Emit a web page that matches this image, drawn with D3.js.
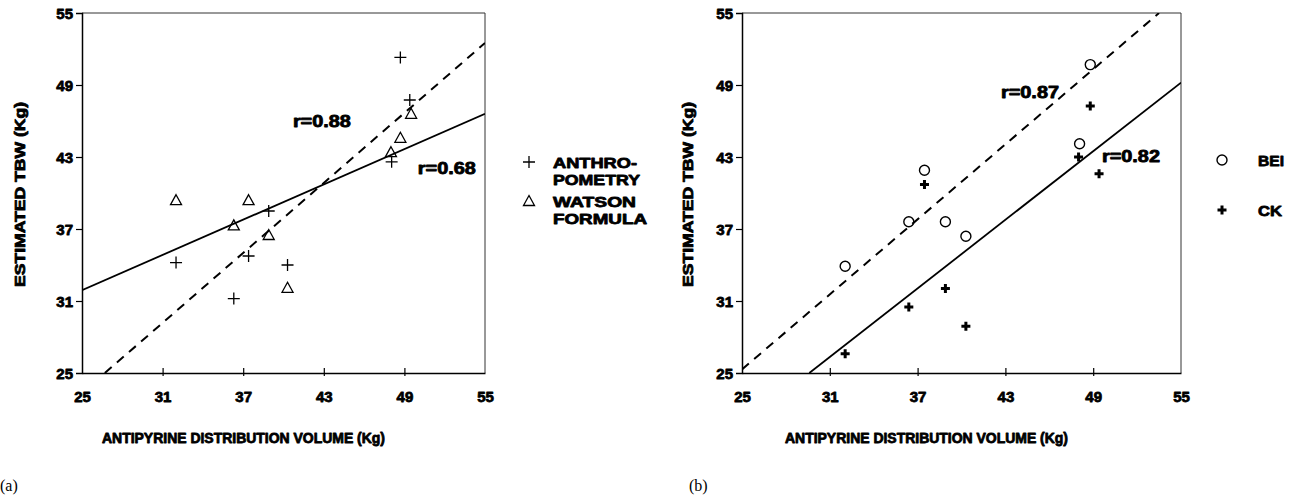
<!DOCTYPE html>
<html><head><meta charset="utf-8">
<script src="https://cdn.jsdelivr.net/npm/d3@7"></script>
<style>
html,body{margin:0;padding:0;background:#fff;}
svg{display:block;}
.h{font-family:"Liberation Sans",Arial,sans-serif;font-weight:bold;fill:#000;stroke:#000;stroke-width:0.8px;stroke-linejoin:round;}
.cap{font-family:"Liberation Serif","Times New Roman",serif;font-size:16px;fill:#000;}
</style></head><body>
<svg id="c" width="1294" height="499"></svg>
<script>
// ---------- data ----------
const tickValues = [25, 31, 37, 43, 49, 55];
const xTitle = "ANTIPYRINE DISTRIBUTION VOLUME (Kg)";
const yTitle = "ESTIMATED TBW (Kg)";

// panel (a)
const aX = [32.0, 36.3, 37.4, 38.9, 40.3, 48.05, 48.7, 49.4];
const aAnthro = [34.2, 31.2, 34.75, 38.5, 34.0, 42.6, 51.3, 47.75];
const aWatsonX = [32.0, 36.3, 37.4, 38.9, 40.3, 48.0, 48.7, 49.5];
const aWatson = [39.4, 37.3, 39.4, 36.5, 32.1, 43.4, 44.6, 46.6];
const aDashed = [[26.7, 25], [55, 52.5]];
const aSolid = [[25, 31.9], [55, 46.6]];
const aLabels = [{t: "r=0.88", x: 40.7, y: 46.0}, {t: "r=0.68", x: 50.0, y: 42.1}];
const aLegend = [{sym: "plus", lines: ["ANTHRO-", "POMETRY"]}, {sym: "tri", lines: ["WATSON", "FORMULA"]}];

// panel (b)
const bBeiX = [32.05, 36.4, 37.47, 38.9, 40.3, 48.07, 48.8];
const bBei = [33.9, 37.6, 41.9, 37.6, 36.4, 44.1, 50.7];
const bCkX = [32.05, 36.4, 37.47, 38.9, 40.3, 48.0, 48.8, 49.4];
const bCk = [26.6, 30.5, 40.7, 32.05, 28.9, 43.0, 47.25, 41.6];
const bDashed = [[25, 25.3], [53.5, 55]];
const bSolid = [[29.6, 25], [55, 49.2]];
const bLabels = [{t: "r=0.87", x: 42.7, y: 48.4}, {t: "r=0.82", x: 49.6, y: 43.1}];
const bLegend = [{sym: "circle", lines: ["BEI"]}, {sym: "bplus", lines: ["CK"]}];

// ---------- drawing ----------
const svg = d3.select("#c");

function drawSymbol(g, sym, cx, cy) {
  if (sym === "plus") {
    g.append("path").attr("d", `M${cx-6},${cy}H${cx+6}M${cx},${cy-6}V${cy+6}`)
      .attr("stroke", "#000").attr("stroke-width", 1.3).attr("fill", "none");
  } else if (sym === "bplus") {
    g.append("path").attr("d", `M${cx-4.5},${cy}H${cx+4.5}M${cx},${cy-4.5}V${cy+4.5}`)
      .attr("stroke", "#000").attr("stroke-width", 3).attr("fill", "none");
  } else if (sym === "tri") {
    g.append("path").attr("d", `M${cx},${cy-5.5}L${cx+5.5},${cy+4.5}L${cx-5.5},${cy+4.5}Z`)
      .attr("stroke", "#000").attr("stroke-width", 1.3).attr("fill", "none");
  } else if (sym === "circle") {
    g.append("circle").attr("cx", cx).attr("cy", cy).attr("r", 5)
      .attr("stroke", "#000").attr("stroke-width", 1.4).attr("fill", "none");
  }
}

function panel(opt) {
  const x = d3.scaleLinear().domain([25, 55]).range(opt.xr);
  const y = d3.scaleLinear().domain([25, 55]).range([373, 13]);
  const g = svg.append("g");

  // frame top/right
  g.append("path").attr("d", `M${opt.xr[0]},13H${opt.xr[1]}V373`)
    .attr("stroke", "#333").attr("stroke-width", 1).attr("fill", "none");

  // y axis
  const ya = g.append("g").attr("transform", `translate(${opt.xr[0]},0)`)
    .call(d3.axisLeft(y).tickValues(tickValues).tickSize(6).tickPadding(3));
  ya.select(".domain").attr("stroke-width", 1.5);
  ya.selectAll("text").attr("class", "h").style("font-size", "15px")
    .attr("font-family", null).attr("dy", "0.36em");
  ya.selectAll(".tick line").attr("stroke-width", 1.2);
  ya.selectAll(".tick").filter(d => d === 25 || d === 55).select("line").remove();

  // x axis
  const xa = g.append("g").attr("transform", "translate(0,373)")
    .call(d3.axisBottom(x).tickValues(tickValues).tickSize(0).tickPadding(0));
  xa.select(".domain").attr("stroke-width", 1.5);
  xa.selectAll(".tick line").remove();
  xa.selectAll(".tick").filter(d => d !== 25 && d !== 55).append("line")
    .attr("y1", -5).attr("y2", 3).attr("stroke", "#000").attr("stroke-width", 1.2);
  xa.selectAll("text").attr("class", "h").style("font-size", "15px")
    .attr("font-family", null).attr("y", 29).attr("dy", 0);

  // clip
  const cid = "clip" + opt.id;
  svg.append("clipPath").attr("id", cid).append("rect")
    .attr("x", opt.xr[0]).attr("y", 13).attr("width", opt.xr[1] - opt.xr[0]).attr("height", 360);
  const line = d3.line().x(d => x(d[0])).y(d => y(d[1]));
  g.append("path").datum(opt.dashed).attr("d", line).attr("clip-path", `url(#${cid})`)
    .attr("stroke", "#000").attr("stroke-width", 2).attr("stroke-dasharray", "9,7").attr("fill", "none");
  g.append("path").datum(opt.solid).attr("d", line).attr("clip-path", `url(#${cid})`)
    .attr("stroke", "#000").attr("stroke-width", 1.8).attr("fill", "none");

  // points
  opt.series.forEach(s => {
    s.xs.forEach((xv, i) => drawSymbol(g, s.sym, x(xv), y(s.ys[i])));
  });

  // r labels
  opt.labels.forEach(l => {
    g.append("text").attr("class", "h").style("font-size", "16px")
      .attr("x", x(l.x)).attr("y", y(l.y) + 6).attr("textLength", 58)
      .attr("lengthAdjust", "spacingAndGlyphs").text(l.t);
  });

  // axis titles
  g.append("text").attr("class", "h").style("font-size", "14px")
    .attr("x", opt.xtX).attr("y", 443).attr("textLength", 283)
    .attr("lengthAdjust", "spacingAndGlyphs").text(xTitle);
  g.append("text").attr("class", "h").style("font-size", "14px")
    .attr("transform", `translate(${opt.ytX},${287}) rotate(-90)`)
    .attr("textLength", 185).attr("lengthAdjust", "spacingAndGlyphs").text(yTitle);

  // legend
  opt.legend.forEach((L, i) => {
    const ly = opt.legY[i];
    drawSymbol(g, L.sym, opt.legSymX, ly);
    L.lines.forEach((t, j) => {
      const tx = g.append("text").attr("class", "h").style("font-size", "15px")
        .attr("x", opt.legTextX).attr("y", ly + 5.5 + j * 17).text(t);
      if (opt.legW) tx.attr("textLength", opt.legW[t]).attr("lengthAdjust", "spacingAndGlyphs");
    });
  });

  // caption
  svg.append("text").attr("class", "cap").attr("x", opt.capX).attr("y", 491).text(opt.cap);
}

panel({
  id: "a", xr: [82, 485],
  dashed: aDashed, solid: aSolid,
  series: [{sym: "plus", xs: aX, ys: aAnthro}, {sym: "tri", xs: aWatsonX, ys: aWatson}],
  labels: aLabels, legend: aLegend, legY: [162, 201], legSymX: 529, legTextX: 553,
  legW: {"ANTHRO-": 84, "POMETRY": 87, "WATSON": 83, "FORMULA": 94},
  xtX: 102, ytX: 25, cap: "(a)", capX: 0
});
panel({
  id: "b", xr: [742, 1181],
  dashed: bDashed, solid: bSolid,
  series: [{sym: "circle", xs: bBeiX, ys: bBei}, {sym: "bplus", xs: bCkX, ys: bCk}],
  labels: bLabels, legend: bLegend, legY: [160, 210], legSymX: 1222, legTextX: 1258,
  legW: {"BEI": 26, "CK": 24},
  xtX: 785, ytX: 693, cap: "(b)", capX: 689
});
</script>
</body></html>
